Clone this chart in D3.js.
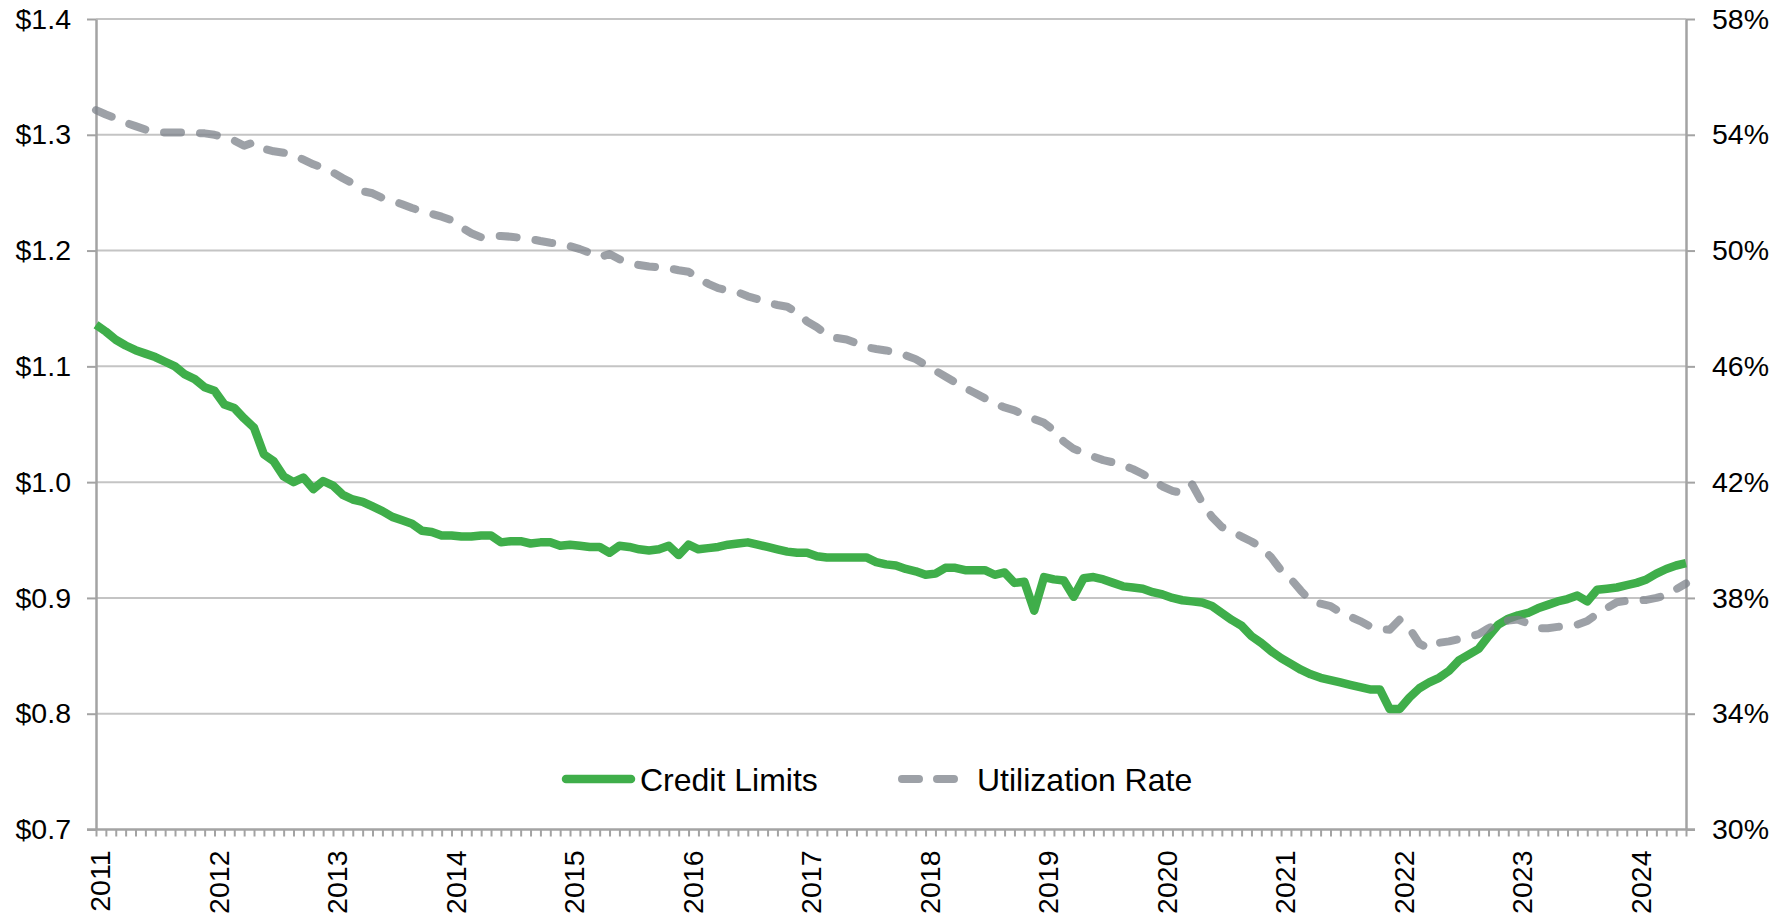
<!DOCTYPE html>
<html>
<head>
<meta charset="utf-8">
<script src="https://cdn.jsdelivr.net/npm/d3@7"></script>
<style>
  body { margin: 0; background: #fff; }
  text { font-family: "Liberation Sans", Arial, sans-serif; fill: #000; }
</style>
</head>
<body>
<div id="chart"></div>
<script>
// ******************************** DATA ***************************************
// Monthly, Jan 2011 - Jun 2024 (162 points)
// Credit limits, $ trillions (left axis)
var creditLimits = [
  1.136, 1.130, 1.123, 1.118, 1.114, 1.111, 1.108, 1.104, 1.100, 1.093, 1.089, 1.082,
  1.079, 1.067, 1.064, 1.055, 1.047, 1.024, 1.018, 1.005, 1.000, 1.004, 0.994, 1.001,
  0.997, 0.989, 0.985, 0.983, 0.979, 0.975, 0.970, 0.967, 0.964, 0.958, 0.957, 0.954,
  0.954, 0.953, 0.953, 0.954, 0.954, 0.948, 0.949, 0.949, 0.947, 0.948, 0.948, 0.945,
  0.946, 0.945, 0.944, 0.944, 0.939, 0.945, 0.944, 0.942, 0.941, 0.942, 0.945, 0.937,
  0.946, 0.942, 0.943, 0.944, 0.946, 0.947, 0.948, 0.946, 0.944, 0.942, 0.940, 0.939,
  0.939, 0.936, 0.935, 0.935, 0.935, 0.935, 0.935, 0.931, 0.929, 0.928, 0.925, 0.923,
  0.920, 0.921, 0.926, 0.926, 0.924, 0.924, 0.924, 0.920, 0.922, 0.913, 0.914, 0.889,
  0.918, 0.916, 0.915, 0.901, 0.917, 0.918, 0.916, 0.913, 0.910, 0.909, 0.908, 0.905,
  0.903, 0.900, 0.898, 0.897, 0.896, 0.893, 0.887, 0.881, 0.876, 0.867, 0.861, 0.854,
  0.848, 0.843, 0.838, 0.834, 0.831, 0.829, 0.827, 0.825, 0.823, 0.821, 0.821, 0.804,
  0.804, 0.814, 0.822, 0.827, 0.831, 0.837, 0.846, 0.851, 0.856, 0.867, 0.877, 0.882,
  0.885, 0.887, 0.891, 0.894, 0.897, 0.899, 0.902, 0.897, 0.907, 0.908, 0.909, 0.911,
  0.913, 0.916, 0.921, 0.925, 0.928, 0.930
];

// Utilization rate, % (right axis)
var utilizationRate = [
  54.85, 54.70, 54.57, 54.42, 54.30, 54.18, 54.10, 54.08, 54.08, 54.08, 54.06, 54.05,
  54.00, 53.92, 53.80, 53.62, 53.74, 53.52, 53.43, 53.38, 53.30, 53.14, 52.98, 52.86,
  52.70, 52.50, 52.32, 52.05, 51.98, 51.82, 51.72, 51.60, 51.47, 51.36, 51.27, 51.17,
  51.05, 50.80, 50.60, 50.46, 50.50, 50.50, 50.48, 50.44, 50.40, 50.33, 50.27, 50.23,
  50.15, 50.05, 49.92, 49.77, 49.88, 49.70, 49.58, 49.50, 49.45, 49.42, 49.39, 49.32,
  49.27, 49.04, 48.85, 48.70, 48.62, 48.56, 48.42, 48.32, 48.20, 48.12, 48.06, 47.86,
  47.55, 47.35, 47.10, 46.98, 46.93, 46.80, 46.66, 46.60, 46.55, 46.48, 46.38, 46.25,
  46.05, 45.85, 45.65, 45.45, 45.25, 45.08, 44.90, 44.72, 44.58, 44.48, 44.32, 44.18,
  44.05, 43.78, 43.40, 43.15, 43.02, 42.88, 42.76, 42.68, 42.58, 42.45, 42.28, 42.07,
  41.85, 41.70, 41.62, 41.92, 41.30, 40.80, 40.45, 40.30, 40.12, 39.95, 39.75, 39.40,
  38.95, 38.65, 38.25, 37.90, 37.80, 37.72, 37.50, 37.35, 37.20, 37.02, 36.92, 36.90,
  37.25, 36.95, 36.42, 36.25, 36.45, 36.50, 36.58, 36.65, 36.75, 36.95, 37.12, 37.22,
  37.25, 37.12, 36.95, 36.95, 37.00, 37.03, 37.08, 37.20, 37.45, 37.65, 37.85, 37.90,
  37.92, 37.93, 38.00, 38.10, 38.30, 38.50
];

// Tick values / labels
var leftTicks = [0.7, 0.8, 0.9, 1.0, 1.1, 1.2, 1.3, 1.4];
var rightTicks = [30, 34, 38, 42, 46, 50, 54, 58];
var yearLabels = ["2011", "2012", "2013", "2014", "2015", "2016", "2017",
                  "2018", "2019", "2020", "2021", "2022", "2023", "2024"];

// Month categories
var months = d3.timeMonth.range(new Date(2011, 0, 1), new Date(2024, 6, 1));

// ************************** CANVAS SET UP ************************************
var svgWidth = 1789,
    svgHeight = 915;
var margin = {left: 96, right: 103, top: 19, bottom: 85.5};
var chartWidth = svgWidth - margin.left - margin.right,   // 1590
    chartHeight = svgHeight - margin.top - margin.bottom; // 810.5

var svg = d3.select("#chart")
  .append("svg")
    .attr("width", svgWidth)
    .attr("height", svgHeight);

var chartGroup = svg.append("g")
  .attr("transform", `translate(${margin.left}, ${margin.top})`);

// ******************************* SCALES **************************************
var xScale = d3.scaleLinear()
  .domain([0, months.length - 1])
  .range([0, chartWidth]);

var yLeft = d3.scaleLinear()
  .domain([0.7, 1.4])
  .range([chartHeight, 0]);

var yRight = d3.scaleLinear()
  .domain([30, 58])
  .range([chartHeight, 0]);

// ******************************* GRID ****************************************
chartGroup.selectAll(".grid")
  .data(leftTicks.slice(1))
  .enter()
  .append("line")
    .attr("x1", 0)
    .attr("x2", chartWidth)
    .attr("y1", d => yLeft(d))
    .attr("y2", d => yLeft(d))
    .attr("stroke", "#c4c4c4")
    .attr("stroke-width", 2);

// ******************************** AXES ***************************************
var axisColor = "#a3a3a3";

// Monthly minor ticks on x axis
var xAxis = d3.axisBottom(xScale)
  .tickValues(d3.range(months.length))
  .tickSize(7)
  .tickSizeOuter(0)
  .tickFormat("");

var xAxisGroup = chartGroup.append("g")
  .attr("transform", `translate(0, ${chartHeight})`)
  .call(xAxis);
xAxisGroup.select(".domain").remove();
xAxisGroup.selectAll("line").attr("stroke", axisColor).attr("stroke-width", 2);

// Left axis
var leftAxis = d3.axisLeft(yLeft)
  .tickValues(leftTicks)
  .tickSize(9)
  .tickSizeOuter(0)
  .tickPadding(16)
  .tickFormat(d => "$" + d.toFixed(1));

var leftGroup = chartGroup.append("g").call(leftAxis);

// Right axis
var rightAxis = d3.axisRight(yRight)
  .tickValues(rightTicks)
  .tickSize(9)
  .tickSizeOuter(0)
  .tickPadding(17)
  .tickFormat(d => d + "%");

var rightGroup = chartGroup.append("g")
  .attr("transform", `translate(${chartWidth}, 0)`)
  .call(rightAxis);

[leftGroup, rightGroup].forEach(function(g) {
  g.select(".domain").attr("stroke", axisColor).attr("stroke-width", 2.5);
  g.selectAll("line").attr("stroke", axisColor).attr("stroke-width", 2);
  g.selectAll("text")
    .style("font-size", "28.5px")
    .style("font-family", "'Liberation Sans', Arial, sans-serif")
    .attr("fill", "#000");
});

// x axis baseline (drawn across both tick stubs)
chartGroup.append("line")
  .attr("x1", -9)
  .attr("x2", chartWidth + 9)
  .attr("y1", chartHeight)
  .attr("y2", chartHeight)
  .attr("stroke", axisColor)
  .attr("stroke-width", 2.5);

// Year labels, rotated
chartGroup.selectAll(".year")
  .data(yearLabels)
  .enter()
  .append("text")
    .attr("transform", (d, i) => `translate(${xScale(i * 12)}, ${chartHeight + 21}) rotate(-90)`)
    .attr("text-anchor", "end")
    .attr("dy", "0.5em")
    .style("font-size", "28.5px")
    .text(d => d);

// ******************************* LINES ***************************************
var creditLine = d3.line()
  .x((d, i) => xScale(i))
  .y(d => yLeft(d));

var utilLine = d3.line()
  .x((d, i) => xScale(i))
  .y(d => yRight(d));

chartGroup.append("path")
  .datum(creditLimits)
  .attr("fill", "none")
  .attr("stroke", "#3fae4a")
  .attr("stroke-width", 8.5)
  .attr("stroke-linejoin", "round")
  .attr("d", creditLine);

chartGroup.append("path")
  .datum(utilizationRate)
  .attr("fill", "none")
  .attr("stroke", "#7c818a")
  .attr("stroke-opacity", 0.75)
  .attr("stroke-width", 8)
  .attr("stroke-linecap", "round")
  .attr("stroke-linejoin", "round")
  .attr("stroke-dasharray", "17,19")
  .attr("d", utilLine);

// ******************************* LEGEND **************************************
var legendY = 779;

svg.append("line")
  .attr("x1", 566).attr("x2", 631)
  .attr("y1", legendY).attr("y2", legendY)
  .attr("stroke", "#3fae4a")
  .attr("stroke-width", 8.5)
  .attr("stroke-linecap", "round");

svg.append("text")
  .attr("x", 640)
  .attr("y", legendY)
  .attr("dy", "0.36em")
  .style("font-size", "32px")
  .text("Credit Limits");

svg.append("line")
  .attr("x1", 902).attr("x2", 956)
  .attr("y1", legendY).attr("y2", legendY)
  .attr("stroke", "#7c818a")
  .attr("stroke-opacity", 0.75)
  .attr("stroke-width", 8)
  .attr("stroke-linecap", "round")
  .attr("stroke-dasharray", "17,18");

svg.append("text")
  .attr("x", 977)
  .attr("y", legendY)
  .attr("dy", "0.36em")
  .style("font-size", "32px")
  .text("Utilization Rate");
</script>
</body>
</html>
